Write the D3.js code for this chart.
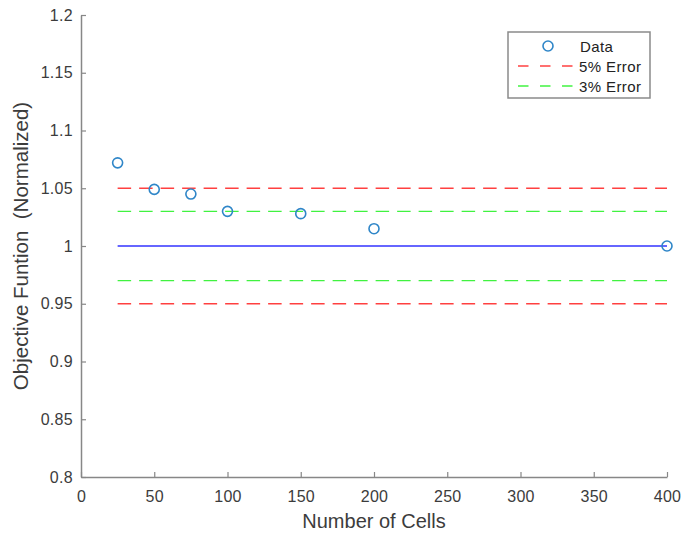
<!DOCTYPE html>
<html>
<head>
<meta charset="utf-8">
<script src="https://cdn.jsdelivr.net/npm/d3@7"></script>
<style>
  body { margin: 0; background: #fff; }
  text { font-family: "Liberation Sans", Arial, sans-serif; }
</style>
</head>
<body>
<script>
const cells = [25, 50, 75, 100, 150, 200, 400];
const objective = [1.072, 1.049, 1.045, 1.030, 1.028, 1.015, 1.0];
const xTicks = [0, 50, 100, 150, 200, 250, 300, 350, 400];
const yTicks = [0.8, 0.85, 0.9, 0.95, 1, 1.05, 1.1, 1.15, 1.2];
const refLines = [
  { name: 'ref', y: 1.0, color: '#0000ff', dash: null },
  { name: '5% Error', y: 1.05, color: '#ff0000', dash: '13.5,8' },
  { name: '5% Error', y: 0.95, color: '#ff0000', dash: '13.5,8' },
  { name: '3% Error', y: 1.03, color: '#00ee00', dash: '13.5,8' },
  { name: '3% Error', y: 0.97, color: '#00ee00', dash: '13.5,8' }
];
const legendItems = [
  { label: 'Data', type: 'marker' },
  { label: '5% Error', type: 'line', color: '#ff0000' },
  { label: '3% Error', type: 'line', color: '#00ee00' }
];

const w = 686, h = 535;
const mLeft = 81, mRight = 667, mTop = 15, mBottom = 477;

const svg = d3.select('body').append('svg').attr('width', w).attr('height', h);

const x = d3.scaleLinear().domain([0, 400]).range([mLeft, mRight]);
const y = d3.scaleLinear().domain([0.8, 1.2]).range([mBottom, mTop]);

const axisColor = '#878787';
const textColor = '#3c3c3c';

// reference lines
svg.selectAll('line.ref')
  .data(refLines)
  .enter()
  .append('line')
  .attr('class', 'ref')
  .attr('x1', x(25))
  .attr('x2', x(400))
  .attr('y1', d => y(d.y))
  .attr('y2', d => y(d.y))
  .attr('stroke', d => d.color)
  .attr('stroke-width', 1.3)
  .attr('stroke-opacity', d => d.dash ? 0.75 : 0.8)
  .attr('stroke-dasharray', d => d.dash);

// data markers
svg.selectAll('circle.pt')
  .data(cells)
  .enter()
  .append('circle')
  .attr('class', 'pt')
  .attr('cx', d => x(d))
  .attr('cy', (d, i) => y(objective[i]))
  .attr('r', 5)
  .attr('fill', 'none')
  .attr('stroke', '#2f86c8')
  .attr('stroke-width', 1.6);

// axes
const xAxis = d3.axisBottom(x).tickValues(xTicks).tickSizeInner(-5).tickSizeOuter(0).tickPadding(13.5);
const gx = svg.append('g').attr('transform', `translate(0,${mBottom})`).call(xAxis);
const yAxis = d3.axisLeft(y).tickValues(yTicks).tickFormat(d => d3.format('')(+d.toFixed(2))).tickSizeInner(-5).tickSizeOuter(0).tickPadding(8);
const gy = svg.append('g').attr('transform', `translate(${mLeft},0)`).call(yAxis);

[gx, gy].forEach(g => {
  g.select('.domain').attr('stroke', axisColor).attr('stroke-width', 1.5);
  g.selectAll('.tick line').attr('stroke', axisColor).attr('stroke-width', 1.2);
  g.selectAll('.tick text')
    .attr('fill', textColor)
    .style('font-size', '16px')
    .style('letter-spacing', '0.3px');
});

// axis labels
svg.append('text')
  .attr('x', (mLeft + mRight) / 2)
  .attr('y', 528)
  .attr('text-anchor', 'middle')
  .attr('fill', textColor)
  .style('font-size', '20px')
  .text('Number of Cells');

svg.append('text')
  .attr('transform', `translate(28,${(mTop + mBottom) / 2}) rotate(-90)`)
  .attr('text-anchor', 'middle')
  .attr('fill', textColor)
  .style('font-size', '20.5px')
  .style('white-space', 'pre')
  .text('Objective Funtion  (Normalized)');

// legend
const lg = svg.append('g').attr('transform', 'translate(508,32)');
lg.append('rect')
  .attr('width', 142)
  .attr('height', 66)
  .attr('fill', '#fff')
  .attr('stroke', '#8a8a8a')
  .attr('stroke-width', 1.5);

const row = lg.selectAll('g.row')
  .data(legendItems)
  .enter()
  .append('g')
  .attr('class', 'row')
  .attr('transform', (d, i) => `translate(0,${14 + i * 20})`);

row.filter(d => d.type === 'marker')
  .append('circle')
  .attr('cx', 40)
  .attr('cy', 0)
  .attr('r', 5)
  .attr('fill', 'none')
  .attr('stroke', '#2f86c8')
  .attr('stroke-width', 1.6);

row.filter(d => d.type === 'line')
  .append('line')
  .attr('x1', 10)
  .attr('x2', 67)
  .attr('stroke', d => d.color)
  .attr('stroke-width', 1.3)
  .attr('stroke-opacity', 0.75)
  .attr('stroke-dasharray', '10.5,11.5');

row.append('text')
  .attr('x', d => d.type === 'marker' ? 72 : 71)
  .attr('y', 5.5)
  .attr('fill', '#222')
  .style('font-size', '15px')
  .style('letter-spacing', '0.4px')
  .text(d => d.label);
</script>
</body>
</html>
